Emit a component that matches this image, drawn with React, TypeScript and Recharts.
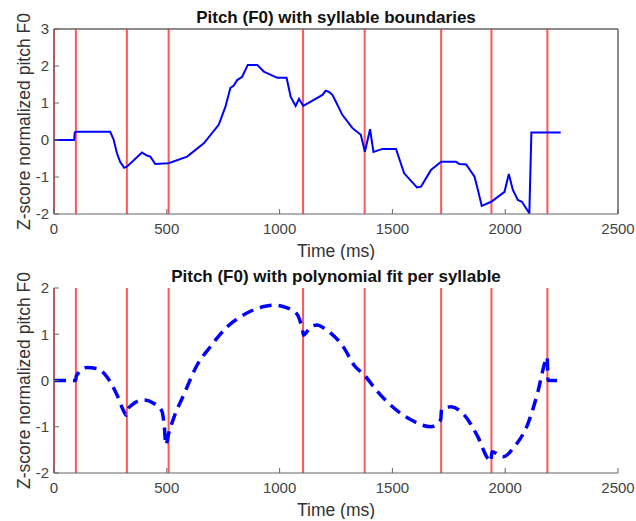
import { LineChart, Line, XAxis, YAxis, ReferenceLine, CartesianGrid, Label } from 'recharts';

// syllable boundaries (ms)
const boundaries = [0, 97, 323, 508, 1104, 1377, 1716, 1939, 2187];

const xTicks = [0, 500, 1000, 1500, 2000, 2500];
const rawYTicks = [-2, -1, 0, 1, 2, 3];
const fitYTicks = [-2, -1, 0, 1, 2];

// raw pitch contour
const rawTime = [
  0, 89, 92, 98, 249, 264, 279, 293, 311, 323, 390, 412, 427, 449, 508, 590, 664, 730, 760, 782,
  797, 812, 834, 859, 901, 930, 990, 1031, 1049, 1071, 1086, 1105, 1138, 1190, 1204, 1219, 1234,
  1249, 1278, 1323, 1360, 1378, 1401, 1416, 1456, 1516, 1552, 1609, 1627, 1671, 1716, 1782, 1797,
  1827, 1864, 1881, 1896, 1938, 1997, 2016, 2034, 2056, 2074, 2107, 2116, 2246,
];
const rawPitch = [
  0, 0, 0.2, 0.22, 0.22, 0.02, -0.36, -0.59, -0.75, -0.72, -0.34, -0.42, -0.45, -0.65, -0.63,
  -0.45, -0.09, 0.41, 0.9, 1.41, 1.47, 1.62, 1.71, 2.03, 2.03, 1.85, 1.68, 1.68, 1.17, 0.92, 1.11,
  0.92, 1.04, 1.22, 1.33, 1.3, 1.22, 1.04, 0.68, 0.32, 0.14, -0.32, 0.29, -0.32, -0.24, -0.24, -0.9,
  -1.28, -1.26, -0.81, -0.59, -0.59, -0.65, -0.66, -0.99, -1.4, -1.78, -1.67, -1.4, -0.92, -1.35,
  -1.62, -1.67, -1.98, 0.2, 0.2,
];

// polynomial fit per syllable
const fitTime = [
  0, 56, 96, 99, 145, 190, 234, 279, 308, 321, 325, 345, 397, 441, 479, 489, 496, 508, 530, 575,
  634, 693, 767, 841, 930, 975, 1034, 1079, 1093, 1102, 1106, 1138, 1167, 1197, 1286, 1330, 1375,
  1434, 1508, 1582, 1671, 1714, 1718, 1760, 1819, 1879, 1925, 1937, 1941, 1990, 2041, 2101, 2145,
  2175, 2186, 2190, 2246,
];
const fitPitch = [
  0, 0, 0, 0.1, 0.28, 0.26, 0.08, -0.31, -0.65, -0.75, -0.64, -0.53, -0.42, -0.49, -0.67, -1.0,
  -1.39, -1.15, -0.82, -0.31, 0.33, 0.73, 1.16, 1.42, 1.6, 1.63, 1.57, 1.42, 1.25, 1.08, 0.98, 1.16,
  1.2, 1.13, 0.7, 0.33, 0.12, -0.24, -0.6, -0.85, -1.0, -0.85, -0.62, -0.57, -0.75, -1.22, -1.7,
  -1.75, -1.54, -1.65, -1.43, -0.93, -0.24, 0.37, 0.51, 0, 0,
];

const rawData = rawTime.map((t, i) => ({ t, v: rawPitch[i] }));
const fitData = fitTime.map((t, i) => ({ t, v: fitPitch[i] }));

const font = 'Liberation Sans, Arial, sans-serif';
const axisColor = '#666';
const tickStyle = { fill: '#444', fontSize: 15, fontFamily: font };
const labelStyle = { fill: '#333', fontSize: 17.5, fontFamily: font };

interface PanelProps {
  title: string;
  data: { t: number; v: number }[];
  yTicks: number[];
  boxed: boolean;
  dashed: boolean;
}

const PitchPanel = ({ title, data, yTicks, boxed, dashed }: PanelProps) => {
  const yTop = yTicks[yTicks.length - 1];
  const yDomain = [yTicks[0], yTop];
  return (
    <div style={{ position: 'relative', width: 636, height: 260 }}>
      <div
        style={{
          position: 'absolute',
          left: 54,
          width: 564,
          top: 8,
          textAlign: 'center',
          fontFamily: font,
          fontWeight: 'bold',
          fontSize: 17,
          color: '#111',
        }}
      >
        {title}
      </div>
      <LineChart width={636} height={260} data={data} margin={{ top: 29, right: 18, bottom: 0, left: 0 }}>
        {/* top and right edges of the axes box (top panel only) */}
        <CartesianGrid
          horizontal={boxed}
          vertical={boxed}
          horizontalValues={[yTop]}
          verticalValues={[2500]}
          stroke={axisColor}
          strokeWidth={1.5}
          strokeOpacity={1}
        />
        <XAxis
          dataKey="t"
          type="number"
          domain={[0, 2500]}
          ticks={xTicks}
          height={46}
          stroke={axisColor}
          tickSize={-5}
          tickMargin={14}
          tick={tickStyle}
        >
          <Label value="Time (ms)" position="insideBottom" offset={3} style={labelStyle} />
        </XAxis>
        <YAxis
          type="number"
          domain={yDomain}
          ticks={yTicks}
          width={54}
          stroke={axisColor}
          tickSize={-5}
          tickMargin={10}
          tick={tickStyle}
          allowDataOverflow
        >
          <Label value="Z-score normalized pitch F0" angle={-90} position="center" dx={-3} style={labelStyle} />
        </YAxis>
        {boundaries.map((b) => (
          <ReferenceLine key={b} x={b} stroke="#ff2a2a" strokeOpacity={0.8} strokeWidth={2} />
        ))}
        <Line
          dataKey="v"
          type={dashed ? 'monotone' : 'linear'}
          stroke="#0000ff"
          strokeWidth={dashed ? 3.5 : 2}
          strokeDasharray={dashed ? '12 7' : undefined}
          dot={false}
          isAnimationActive={false}
        />
      </LineChart>
    </div>
  );
};

export default function App() {
  return (
    <div style={{ position: 'absolute', left: 0, top: 0, width: 636, height: 521, background: '#fff' }}>
      <PitchPanel
        title="Pitch (F0) with syllable boundaries"
        data={rawData}
        yTicks={rawYTicks}
        boxed={true}
        dashed={false}
      />
      <div style={{ position: 'absolute', left: 0, top: 259 }}>
        <PitchPanel
          title="Pitch (F0) with polynomial fit per syllable"
          data={fitData}
          yTicks={fitYTicks}
          boxed={false}
          dashed={true}
        />
      </div>
    </div>
  );
}
